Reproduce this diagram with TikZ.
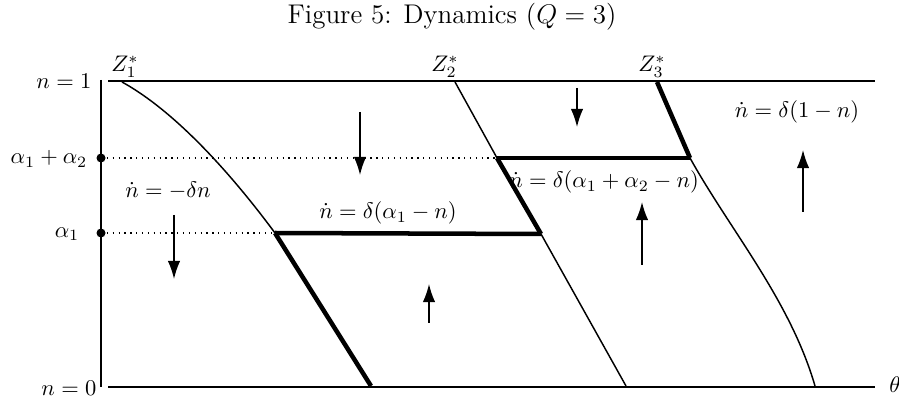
\documentclass[tikz,border=0pt]{standalone}
\usetikzlibrary{arrows.meta}

\tikzset{
  thinline/.style={line width=0.65pt},
  boldline/.style={line width=2pt},
  levelline/.style={dotted,line width=0.6pt},
  motion/.style={->,line width=0.65pt},
  lbl/.style={inner sep=1pt},
}

\begin{document}
\begin{tikzpicture}[x=0.444pt,y=-0.444pt,>={Latex[length=8pt,width=5.5pt]}]
\useasboundingbox (0,0) rectangle (899,403);
\node (title) at (452,17) {\large Figure 5: Dynamics ($Q=3$)};

% axes
\coordinate (axtop) at (101,80);
\coordinate (axbot) at (101,387);
\draw[thinline] (axtop) -- (axbot);
\draw[thinline] (108,81) -- (875,81);
\draw[thinline] (108,387) -- (875,387);
\node[lbl,anchor=east] (none) at (94,81) {$n=1$};
\node[lbl,anchor=east] (nzero) at (99,388) {$n=0$};
\node (theta) at (895,385) {$\theta$};

% levels
\coordinate (aa) at (101,158);
\coordinate (a) at (101,233);
\fill (aa) circle (4.5);
\fill (a) circle (4.5);
\node[lbl,anchor=east] (lab-aa) at (90,159) {$\alpha_1+\alpha_2$};
\node[lbl,anchor=east] (lab-a) at (82,234) {$\alpha_1$};

% kink points
\coordinate (z1top) at (122,82);
\coordinate (z1mid) at (275,233);
\coordinate (z1bot) at (371,386);
\coordinate (z2top) at (455,82);
\coordinate (z2up) at (497,158);
\coordinate (z2mid) at (541,234);
\coordinate (z2bot) at (626,386);
\coordinate (z3top) at (657,82);
\coordinate (z3mid) at (690,158);
\coordinate (z3bot) at (815,386);

\draw[levelline] (aa) -- (z2up);
\draw[levelline] (a) -- (z1mid);

% loci
\draw[thinline] (z1top) .. controls (180,114) and (238,183) .. (z1mid);
\draw[boldline] (z1mid) -- (z1bot);
\draw[boldline] (z1mid) -- (z2mid);
\draw[thinline] (z2top) -- (z2up);
\draw[boldline] (z2up) -- (z2mid);
\draw[thinline] (z2mid) -- (z2bot);
\draw[boldline] (z2up) -- (z3mid);
\draw[boldline] (z3top) -- (z3mid);
\draw[thinline] (z3mid) .. controls (730,230) and (790,300) .. (z3bot);

\node[lbl,anchor=south] (Z1) at (125,80) {$Z_1^*$};
\node[lbl,anchor=south] (Z2) at (445,80) {$Z_2^*$};
\node[lbl,anchor=south] (Z3) at (652,80) {$Z_3^*$};

% laws of motion
\node (dyn0) at (168,191) {$\dot n=-\delta n$};
\node (dyn1) at (388,213) {$\dot n=\delta(\alpha_1-n)$};
\node (dyn2) at (604,182) {$\dot n=\delta(\alpha_1+\alpha_2-n)$};
\node (dyn3) at (797,112) {$\dot n=\delta(1-n)$};

\draw[motion] (174,215) -- (174,279);
\draw[motion] (360,112) -- (360,175);
\draw[motion] (577,88) -- (577,127);
\draw[motion] (429,323) -- (429,284);
\draw[motion] (642,265) -- (642,202);
\draw[motion] (803,212) -- (803,150);
\end{tikzpicture}
\end{document}
